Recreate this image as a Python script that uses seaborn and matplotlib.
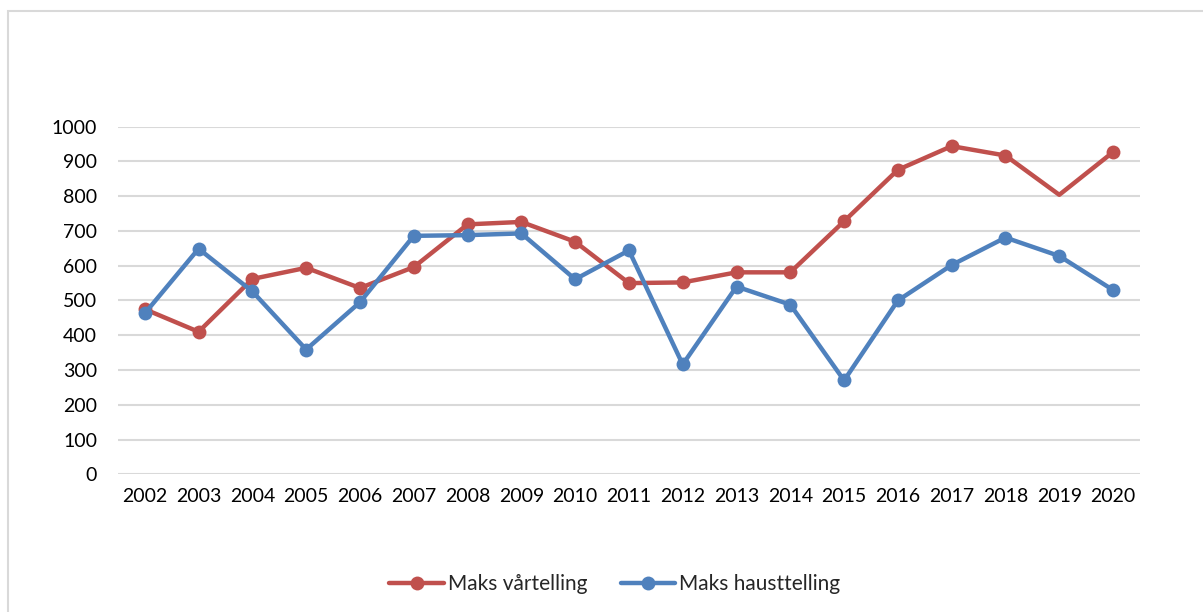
import matplotlib
matplotlib.use("Agg")
import matplotlib.pyplot as plt
import numpy as np
import pandas as pd
import seaborn as sns
from matplotlib.patches import Rectangle

# values
years = [str(y) for y in range(2002, 2021)]
var_telling = [475, 410, 562, 594, 536, 596, 719, 726, 669, 550,
               552, 581, 581, 728, 876, 944, 917, 804, 927]
haust_telling = [463, 649, 526, 359, 495, 686, 688, 693, 561, 644,
                 316, 540, 488, 270, 500, 602, 681, 628, 530]
y_ticks = [0, 100, 200, 300, 400, 500, 600, 700, 800, 900, 1000]
series_names = ["Maks vårtelling", "Maks hausttelling"]
colors = ["#C0504D", "#4F81BD"]

sns.set_style("white")
plt.rcParams["font.family"] = ["Lato", "DejaVu Sans"]

df = pd.DataFrame({"Year": years, "x": np.arange(len(years)),
                   series_names[0]: var_telling, series_names[1]: haust_telling})

fig = plt.figure(figsize=(12.03, 6.12), dpi=100)
ax = fig.add_axes([0.098, 0.225, 0.8496, 0.568])

# the spring series has no marker on 2019 in the original
spring_marks = [i for i, y in enumerate(years) if y != "2019"]

sns.lineplot(data=df, x="x", y=series_names[0], ax=ax, color=colors[0],
             linewidth=3.2, marker="o", markersize=10, markeredgewidth=0,
             markevery=spring_marks, label=series_names[0], zorder=3)
sns.lineplot(data=df, x="x", y=series_names[1], ax=ax, color=colors[1],
             linewidth=3.2, marker="o", markersize=10, markeredgewidth=0,
             label=series_names[1], zorder=4)

ax.set_xlim(-0.5, len(years) - 0.5)
ax.set_ylim(0, 1000)
ax.set_xticks(df["x"])
ax.set_xticklabels(years)
ax.set_yticks(y_ticks)
ax.set_xlabel("")
ax.set_ylabel("")
ax.grid(axis="y", color="#D9D9D9", linewidth=1.5)
ax.set_axisbelow(True)
for s in ax.spines.values():
    s.set_visible(False)
ax.tick_params(axis="both", length=0, labelsize=14, colors="black")
ax.tick_params(axis="y", pad=15)
ax.tick_params(axis="x", pad=10)

ax.legend(loc="center", bbox_to_anchor=(0.511, 1 - 584 / 612),
          bbox_transform=fig.transFigure, ncol=2, frameon=False,
          fontsize=15, handlelength=2.6, handletextpad=0.2,
          columnspacing=1.6)

# light frame around the chart area
fig.patches.append(Rectangle((8 / 1203, -0.05), 1.2, 1.05 - 11 / 612,
                             transform=fig.transFigure, fill=False,
                             edgecolor="#D9D9D9", linewidth=1.5))

fig.savefig("out.png", dpi=100)
